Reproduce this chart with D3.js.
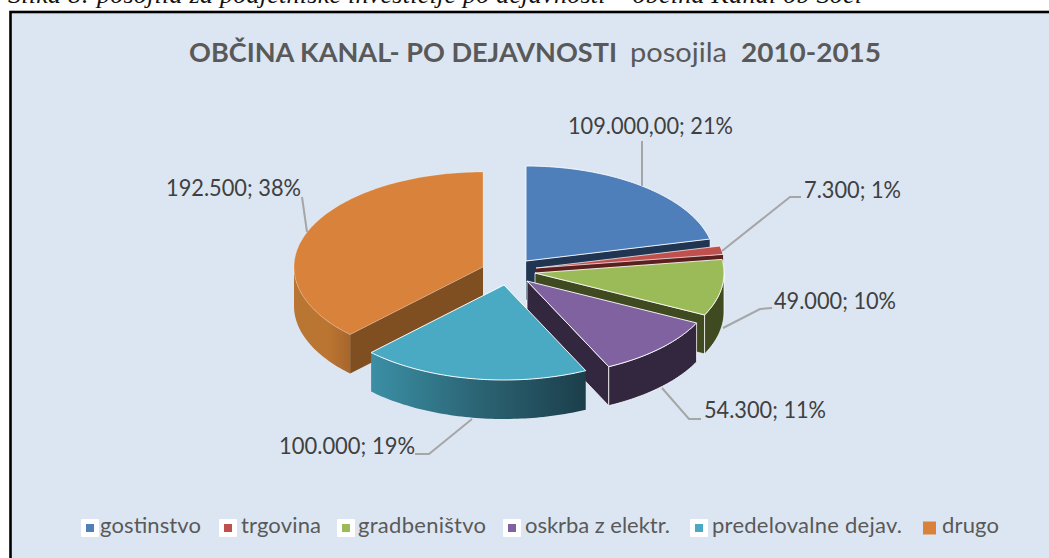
<!DOCTYPE html>
<html><head><meta charset="utf-8">
<script src="https://d3js.org/d3.v7.min.js"></script>
<style>html,body{margin:0;padding:0;background:#fff;overflow:hidden}svg{display:block}</style>
</head><body><svg id="c" width="1049" height="558"></svg>
<script>
// ---- data ----
const categories = ["gostinstvo","trgovina","gradbeništvo","oskrba z elektr.","predelovalne dejav.","drugo"];
const values = [109000,7300,49000,54300,100000,192500];
const valueLabels = ["109.000,00","7.300","49.000","54.300","100.000","192.500"];
const percentLabels = ["21%","1%","10%","11%","19%","38%"];
const chartTitleBold = "OBČINA KANAL- PO DEJAVNOSTI";
const chartTitleWord = "posojila";
const chartTitleYears = "2010-2015";
const captionText = "Slika 8: posojila za podjetniške investicije po dejavnosti – občina Kanal ob Soči";

// ---- style / layout ----
const topColors  = ["#4f7fba","#c0504d","#9bbb59","#8062a0","#4aaac4","#d9823b"];
const wallColors = ["#1f3551","#5a1f1e","#3f4a21","#33263f","url(#gCyan)","url(#gOrange)"];
const innerColors= ["#1f3551","#5a1f1e","#3f4a21","#33263f","#2c6475","#7f4f22"];
const edgeOpacity= [0.85,0.7,0.85,0.9,0.95,0.25];
const wallEdge   = [0.3,0,0.8,0.85,0,0];
const apexes = [[526,261],[536,268],[535,273],[527,281],[504,285],[483,267]];
const paintOrder = [0,1,2,3,5,4];
const RX=189, RY=95, DEPTH=39;
const labelBoxes = [[568,733,134],[804,901,198],[774,896,309],[704,826,418],[279,415,454],[166,301,196]];
const leaders = [
 [[642,141],[642,186]],
 [[801,197],[790,197],[722,251]],
 [[772,308],[760,309],[723,328]],
 [[701,419],[689,419],[662,388]],
 [[415,454],[429,454],[472,419]],
 [[302,197],[307,232]]
];
const legendLayout = [
 {box:81, sq:86, s:8, t:[100,201]},
 {box:219,sq:224,s:8, t:[241,321]},
 {box:337,sq:342,s:8, t:[358,486]},
 {box:503,sq:508,s:8, t:[525,670]},
 {box:690,sq:695,s:8, t:[712,902]},
 {box:null,sq:923,s:13,t:[942,999]}
];

const svg = d3.select("#c");
const defs = svg.append("defs");
function grad(id,stops){
  const g=defs.append("linearGradient").attr("id",id).attr("x1",0).attr("x2",1).attr("y1",0).attr("y2",0);
  stops.forEach(s=>g.append("stop").attr("offset",s[0]).attr("stop-color",s[1]));
}
grad("gCyan",[[0,"#3b8fa5"],[0.5,"#2b6474"],[1,"#1c3e4b"]]);
grad("gOrange",[[0,"#b97533"],[0.6,"#bb7532"],[1,"#a8662b"]]);

// caption + frame
svg.append("rect").attr("x",10.5).attr("y",12).attr("width",1045).attr("height",560)
  .attr("fill","#dce6f2").attr("stroke","#000").attr("stroke-width",2.6);
svg.append("text").text(captionText).attr("x",8).attr("y",3)
  .attr("font-family","'Liberation Serif',serif").attr("font-style","italic").attr("font-size",26)
  .attr("textLength",854).attr("lengthAdjust","spacing").attr("fill","#111");

// title
function titlePart(txt,x0,x1,weight){
  svg.append("text").text(txt).attr("x",x0).attr("y",62)
    .attr("font-family","Lato,'Open Sans',sans-serif").attr("font-weight",weight).attr("font-size",27.5)
    .attr("textLength",x1-x0).attr("lengthAdjust","spacingAndGlyphs").attr("fill","#595959");
}
titlePart(chartTitleBold,189,617,700);
titlePart(chartTitleWord,630,727,400);
titlePart(chartTitleYears,741,881,700);

// pie
const sx=d3.scaleLinear().domain([-1,1]).range([-RX,RX]);
const sy=d3.scaleLinear().domain([-1,1]).range([-RY,RY]);
const arcs=d3.pie().sort(null).value(d=>d)(values);
const line=d3.line();
const P=(a,ap,dz=0)=>[ap[0]+sx(Math.sin(a)),ap[1]+sy(-Math.cos(a))+dz];
const rim=(a0,a1,ap,dz=0)=>{
  const n=Math.max(2,Math.ceil((a1-a0)/0.02));
  return d3.range(n+1).map(i=>P(a0+(a1-a0)*i/n,ap,dz));
};
const pieG=svg.append("g");
paintOrder.forEach(i=>{
  const a=arcs[i], ap=apexes[i], g=pieG.append("g");
  const apB=[ap[0],ap[1]+DEPTH];
  const wallStyle=s=>s.attr("stroke","#fff").attr("stroke-width",wallEdge[i]?0.9:0).attr("stroke-opacity",wallEdge[i]);
  // front-facing radial walls
  if(Math.sin(a.startAngle)<-1e-6){
    g.append("path").attr("d",line([ap,P(a.startAngle,ap),P(a.startAngle,ap,DEPTH),apB])+"Z")
     .attr("fill",innerColors[i]).call(wallStyle);
  }
  if(Math.sin(a.endAngle)>1e-6){
    g.append("path").attr("d",line([ap,P(a.endAngle,ap),P(a.endAngle,ap,DEPTH),apB])+"Z")
     .attr("fill",innerColors[i]).call(wallStyle);
  }
  // outer rim wall, front half only
  const r0=Math.max(a.startAngle,Math.PI/2), r1=Math.min(a.endAngle,3*Math.PI/2);
  if(r1>r0){
    g.append("path").attr("d",line(rim(r0,r1,ap).concat(rim(r0,r1,ap,DEPTH).reverse()))+"Z")
     .attr("fill",wallColors[i]).call(wallStyle);
  }
  // top
  g.append("path").attr("d",line([ap].concat(rim(a.startAngle,a.endAngle,ap)))+"Z")
   .attr("fill",topColors[i]).attr("stroke","#fff").attr("stroke-width",1).attr("stroke-opacity",edgeOpacity[i])
   .attr("stroke-linejoin","round");
});

// leaders
svg.append("g").selectAll("path").data(leaders).join("path")
  .attr("d",d=>line(d)).attr("fill","none").attr("stroke","#a6a6a6").attr("stroke-width",2);

// data labels
svg.append("g").selectAll("text").data(values).join("text")
  .text((d,i)=>valueLabels[i]+"; "+percentLabels[i])
  .attr("x",(d,i)=>labelBoxes[i][0]).attr("y",(d,i)=>labelBoxes[i][2])
  .attr("textLength",(d,i)=>labelBoxes[i][1]-labelBoxes[i][0]).attr("lengthAdjust","spacingAndGlyphs")
  .attr("font-family","Lato,'Open Sans',sans-serif").attr("font-size",22.5).attr("fill","#404040");

// legend
const leg=svg.append("g");
categories.forEach((c,i)=>{
  const L=legendLayout[i], cy=528;
  if(L.box!==null) leg.append("rect").attr("x",L.box).attr("y",cy-9).attr("width",18).attr("height",18).attr("rx",1).attr("fill","#fff");
  leg.append("rect").attr("x",L.sq).attr("y",cy-L.s/2).attr("width",L.s).attr("height",L.s).attr("fill",topColors[i]);
  leg.append("text").text(c).attr("x",L.t[0]).attr("y",533)
    .attr("textLength",L.t[1]-L.t[0]).attr("lengthAdjust","spacing")
    .attr("font-family","Lato,'Open Sans',sans-serif").attr("font-size",22).attr("fill","#595959");
});
</script></body></html>
